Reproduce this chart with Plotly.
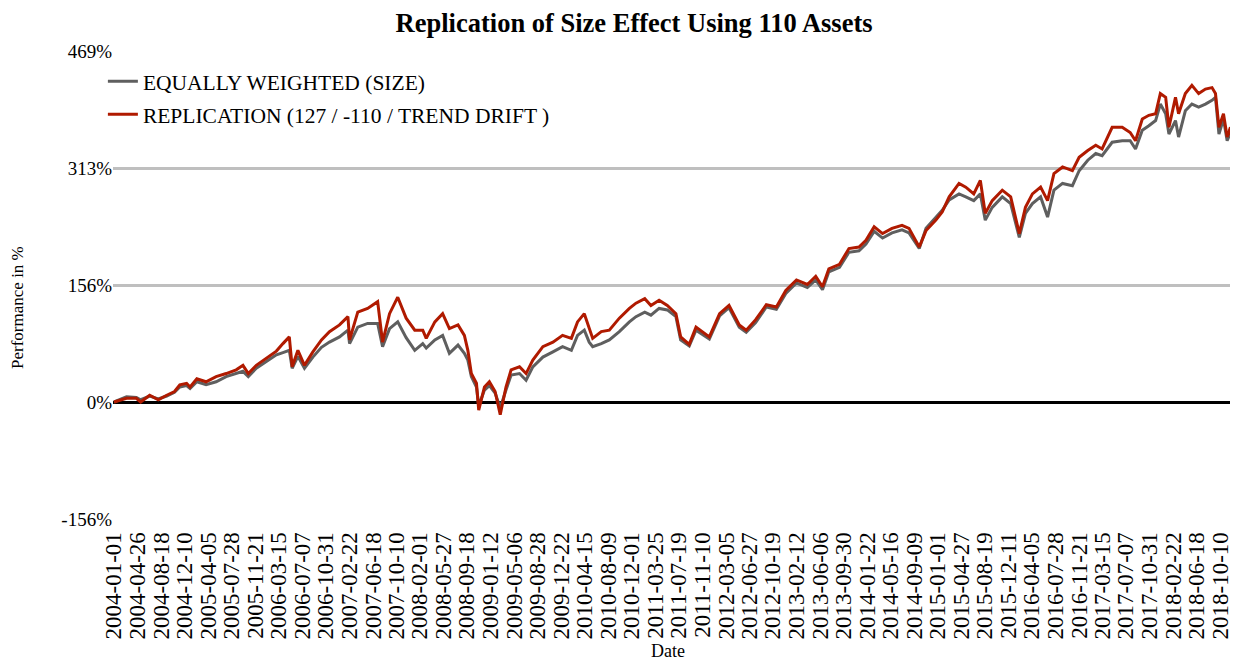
import plotly.graph_objects as go

dates = [
    "2004-01-01", "2004-03-02", "2004-04-19", "2004-05-10", "2004-06-23", "2004-08-04", "2004-09-14",
    "2004-10-22", "2004-11-17", "2004-12-20", "2005-01-06", "2005-02-08", "2005-03-25", "2005-05-13",
    "2005-07-01", "2005-08-19", "2005-09-21", "2005-10-17", "2005-11-25", "2006-01-13", "2006-03-03",
    "2006-04-04", "2006-05-05", "2006-05-19", "2006-06-16", "2006-07-18", "2006-08-28", "2006-10-09",
    "2006-11-17", "2007-01-05", "2007-02-15", "2007-02-23", "2007-04-04", "2007-05-22", "2007-07-10",
    "2007-08-03", "2007-09-06", "2007-10-16", "2007-11-26", "2008-01-07", "2008-02-15", "2008-03-03",
    "2008-04-14", "2008-05-22", "2008-06-24", "2008-08-05", "2008-09-05", "2008-09-22", "2008-10-09",
    "2008-11-03", "2008-11-14", "2008-12-12", "2009-01-05", "2009-02-02", "2009-02-27", "2009-03-27",
    "2009-04-21", "2009-06-01", "2009-07-03", "2009-08-05", "2009-09-23", "2009-11-11", "2009-12-28",
    "2010-02-09", "2010-03-11", "2010-04-13", "2010-05-07", "2010-05-24", "2010-07-05", "2010-08-13",
    "2010-10-01", "2010-11-19", "2010-12-21", "2011-02-02", "2011-03-04", "2011-04-13", "2011-05-23",
    "2011-07-04", "2011-07-27", "2011-09-07", "2011-10-10", "2011-12-14", "2012-02-02", "2012-03-19",
    "2012-05-08", "2012-06-11", "2012-07-27", "2012-09-17", "2012-11-05", "2012-12-21", "2013-02-11",
    "2013-04-05", "2013-05-16", "2013-06-18", "2013-07-19", "2013-09-09", "2013-10-25", "2013-12-13",
    "2014-01-16", "2014-02-25", "2014-04-07", "2014-05-23", "2014-07-11", "2014-08-14", "2014-10-03",
    "2014-11-05", "2014-12-23", "2015-01-23", "2015-02-26", "2015-04-15", "2015-05-18", "2015-06-26",
    "2015-07-28", "2015-08-21", "2015-09-24", "2015-11-12", "2015-12-23", "2016-02-03", "2016-03-04",
    "2016-04-07", "2016-05-17", "2016-06-20", "2016-07-21", "2016-09-01", "2016-10-19", "2016-11-21",
    "2017-01-02", "2017-02-10", "2017-03-13", "2017-05-01", "2017-06-19", "2017-07-28", "2017-08-23",
    "2017-09-25", "2017-10-27", "2017-11-29", "2017-12-22", "2018-01-17", "2018-02-02", "2018-03-06",
    "2018-03-21", "2018-04-23", "2018-05-25", "2018-06-27", "2018-07-30", "2018-08-31", "2018-09-17",
    "2018-10-04", "2018-10-26", "2018-11-13", "2018-11-29", "2018-12-14", "2018-12-28",
]

equally_weighted = [
    0, 7, 6, 3, 8, 4, 8,
    13, 20, 22, 18, 27, 23, 27,
    34, 38, 41, 34, 45, 54, 63,
    66, 69, 45, 61, 45, 60, 73,
    80, 87, 96, 78, 100, 105, 105,
    74, 98, 107, 86, 69, 78, 72,
    83, 89, 65, 76, 65, 56, 34,
    20, -5, 16, 22, 12, -8, 16,
    36, 38, 29, 47, 60, 67, 74,
    69, 89, 96, 80, 74, 78, 83,
    94, 107, 114, 120, 116, 125, 123,
    114, 83, 75, 96, 84, 115, 126,
    100, 93, 106, 127, 124, 145, 159,
    153, 163, 150, 174, 180, 200, 202,
    211, 228, 219, 226, 230, 226, 205,
    232, 246, 256, 270, 278, 274, 269,
    278, 243, 260, 274, 265, 220, 252,
    265, 274, 247, 283, 292, 289, 309,
    323, 332, 329, 347, 349, 349, 338,
    363, 369, 376, 398, 385, 358, 376,
    354, 389, 398, 394, 398, 403, 407,
    358, 378, 349, 363, 323, 312,
]

replication = [
    0, 5, 5, 0, 9, 3, 9,
    14, 23, 25, 20, 31, 27, 34,
    38, 43, 49, 38, 49, 59, 68,
    78, 87, 47, 69, 49, 67, 83,
    94, 103, 114, 83, 120, 125, 134,
    80, 118, 140, 112, 96, 96, 85,
    107, 118, 98, 103, 89, 69, 38,
    25, -11, 20, 27, 14, -17, 20,
    43, 47, 38, 56, 74, 80, 89,
    85, 107, 118, 100, 85, 94, 96,
    112, 125, 132, 138, 129, 136, 129,
    118, 87, 77, 100, 87, 118, 129,
    103, 96, 110, 130, 127, 149, 163,
    157, 168, 154, 178, 184, 205, 207,
    216, 234, 225, 232, 236, 232, 207,
    229, 243, 254, 274, 292, 287, 278,
    296, 252, 269, 283, 274, 225, 260,
    278, 287, 269, 305, 314, 309, 327,
    336, 343, 338, 367, 367, 360, 349,
    378, 383, 385, 412, 407, 367, 407,
    385, 412, 423, 412, 418, 420, 412,
    367, 385, 354, 367, 332, 318,
]

tick_dates = [
    "2004-01-01", "2004-04-26", "2004-08-18", "2004-12-10", "2005-04-05", "2005-07-28",
    "2005-11-21", "2006-03-15", "2006-07-07", "2006-10-31", "2007-02-22", "2007-06-18",
    "2007-10-10", "2008-02-01", "2008-05-27", "2008-09-18", "2009-01-12", "2009-05-06",
    "2009-08-28", "2009-12-22", "2010-04-15", "2010-08-09", "2010-12-01", "2011-03-25",
    "2011-07-19", "2011-11-10", "2012-03-05", "2012-06-27", "2012-10-19", "2013-02-12",
    "2013-06-06", "2013-09-30", "2014-01-22", "2014-05-16", "2014-09-09", "2015-01-01",
    "2015-04-27", "2015-08-19", "2015-12-11", "2016-04-05", "2016-07-28", "2016-11-21",
    "2017-03-15", "2017-07-07", "2017-10-31", "2018-02-22", "2018-06-18", "2018-10-10",
]

y_tick_values = [-156.3, 0, 156.3, 312.6, 468.9]
y_tick_labels = ["-156%", "0%", "156%", "313%", "469%"]

series_names = ["EQUALLY WEIGHTED (SIZE)", "REPLICATION (127 / -110 / TREND DRIFT )"]
series_colors = ["#5f5f5f", "#b01a00"]

FONT = "Liberation Serif, Times New Roman, serif"

fig = go.Figure()
for i, (name, vals, col) in enumerate(zip(series_names, [equally_weighted, replication], series_colors)):
    fig.add_trace(go.Scatter(
        x=dates, y=vals, mode="lines", name=name,
        line=dict(color=col, width=3), legendgroup=f"g{i}",
    ))

fig.update_layout(
    width=1230, height=656,
    margin=dict(l=105, r=1, t=43, b=145),
    paper_bgcolor="white", plot_bgcolor="white",
    font=dict(family=FONT, size=18, color="black"),
    title=dict(
        text="<b>Replication of Size Effect Using 110 Assets</b>",
        x=0.509, xanchor="center", y=0.977, yanchor="middle",
        font=dict(family=FONT, size=26.5, color="black"),
    ),
    showlegend=True,
    legend=dict(
        x=-0.009, xanchor="left", y=0.979, yanchor="top",
        bgcolor="rgba(0,0,0,0)", font=dict(family=FONT, size=21.5, color="black"),
        tracegroupgap=2,
    ),
    xaxis=dict(
        type="date",
        range=["2003-12-27", "2018-12-31"],
        tickmode="array", tickvals=tick_dates, ticktext=tick_dates,
        tickangle=-90, showgrid=False, showline=False, zeroline=False,
        ticks="outside", ticklen=3, tickcolor="rgba(0,0,0,0)",
        tickfont=dict(family=FONT, size=23, color="black"),
    ),
    yaxis=dict(
        range=[-156.3, 468.9],
        tickmode="array", tickvals=y_tick_values, ticktext=y_tick_labels,
        showgrid=True, gridcolor="#bfbfbf", gridwidth=2.5,
        zeroline=True, zerolinecolor="black", zerolinewidth=2.5,
        showline=False, ticks="",
        tickfont=dict(family=FONT, size=19, color="black"),
    ),
    annotations=[
        dict(text="Performance in %", xref="paper", yref="paper", x=-0.0845, y=0.451,
             textangle=-90, showarrow=False, xanchor="center", yanchor="middle",
             font=dict(family=FONT, size=17, color="black")),
        dict(text="Date", xref="paper", yref="paper", x=0.494, y=-0.2821,
             showarrow=False, xanchor="center", yanchor="middle",
             font=dict(family=FONT, size=18, color="black")),
    ],
)

fig.write_html("out.html")
